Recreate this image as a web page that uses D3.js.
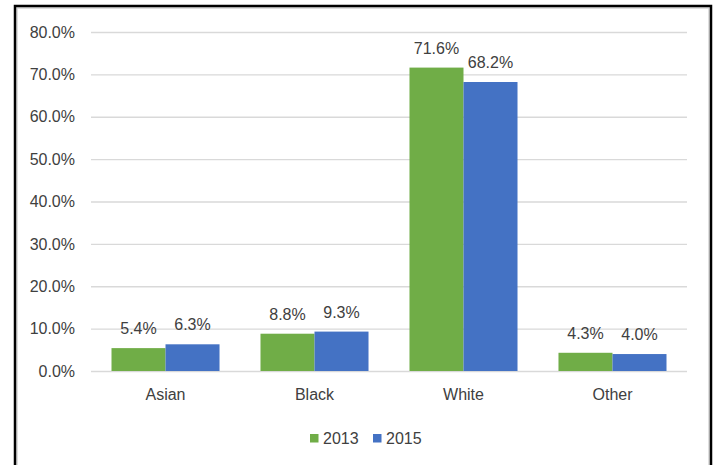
<!DOCTYPE html>
<html>
<head>
<meta charset="utf-8">
<script src="https://cdn.jsdelivr.net/npm/d3@7"></script>
<style>
  html, body { margin: 0; padding: 0; background: #fff; }
  svg { display: block; }
  text { font-family: "Liberation Sans", Arial, sans-serif; fill: #404040; }
</style>
</head>
<body>
<svg id="chart" width="719" height="465"></svg>
<script>
// Race / ethnicity shares, two survey years
const categories = ["Asian", "Black", "White", "Other"];
const years = ["2013", "2015"];
const values2013 = [0.054, 0.088, 0.716, 0.043];
const values2015 = [0.063, 0.093, 0.682, 0.040];
const yTicks = [0, 0.1, 0.2, 0.3, 0.4, 0.5, 0.6, 0.7, 0.8];
const colors = ["#70AD47", "#4472C4"];

const series = [values2013, values2015];
const rows = categories.map((c, i) => ({
  category: c,
  values: years.map((y, j) => ({ year: y, value: series[j][i], color: colors[j] }))
}));

const svg = d3.select("#chart");
const fmt = d3.format(".1%");
const fontSize = "16px";

// Frame with a faint inner shadow on top and right
svg.append("rect").attr("x", 17).attr("y", 8).attr("width", 692).attr("height", 470)
  .attr("fill", "none").attr("stroke", "#d4d4d4").attr("stroke-width", 1.5);
svg.append("rect").attr("x", 15).attr("y", 6).attr("width", 696).attr("height", 480)
  .attr("fill", "none").attr("stroke", "#000").attr("stroke-width", 2.5);

const x = d3.scaleBand().domain(categories).range([91, 687])
  .paddingInner(0.275).paddingOuter(0.1376);
const xs = d3.scaleBand().domain(years).range([0, x.bandwidth()]);
const y = d3.scaleLinear().domain([0, 0.8]).range([371, 32]);

// Gridlines and y tick labels
const yAxis = d3.axisLeft(y).tickValues(yTicks).tickFormat(fmt)
  .tickSize(-(687 - 91)).tickPadding(16);
const gy = svg.append("g").attr("transform", "translate(91,0)").call(yAxis);
gy.select(".domain").remove();
gy.selectAll(".tick line").attr("stroke", "#d9d9d9").attr("stroke-width", 1.3);
gy.selectAll(".tick text").style("font-size", fontSize).attr("fill", "#404040")
  .attr("font-family", "Liberation Sans, Arial, sans-serif");

// Bars
const groups = svg.append("g").selectAll("g").data(rows).join("g")
  .attr("transform", d => `translate(${x(d.category)},0)`);
groups.selectAll("rect").data(d => d.values).join("rect")
  .attr("x", d => xs(d.year))
  .attr("y", d => y(d.value))
  .attr("width", xs.bandwidth())
  .attr("height", d => y(0) - y(d.value))
  .attr("fill", d => d.color);

// Value labels
groups.selectAll("text.val").data(d => d.values).join("text")
  .attr("class", "val")
  .attr("x", d => xs(d.year) + xs.bandwidth() / 2)
  .attr("y", d => y(d.value) - 14)
  .attr("text-anchor", "middle")
  .style("font-size", fontSize)
  .text(d => fmt(d.value));

// Category axis labels
const xAxis = d3.axisBottom(x).tickSize(0).tickPadding(18);
const gx = svg.append("g").attr("transform", "translate(0,371)").call(xAxis);
gx.select(".domain").remove();
gx.selectAll(".tick text").style("font-size", fontSize).attr("fill", "#404040")
  .attr("font-family", "Liberation Sans, Arial, sans-serif");

// Legend
const legendX = [310, 373];
const legend = svg.append("g").selectAll("g").data(years).join("g")
  .attr("transform", (d, i) => `translate(${legendX[i]},434)`);
legend.append("rect").attr("width", 8.5).attr("height", 8.5)
  .attr("fill", (d, i) => colors[i]);
legend.append("text").attr("x", 13).attr("y", 9.5)
  .style("font-size", fontSize).text(d => d);
</script>
</body>
</html>
